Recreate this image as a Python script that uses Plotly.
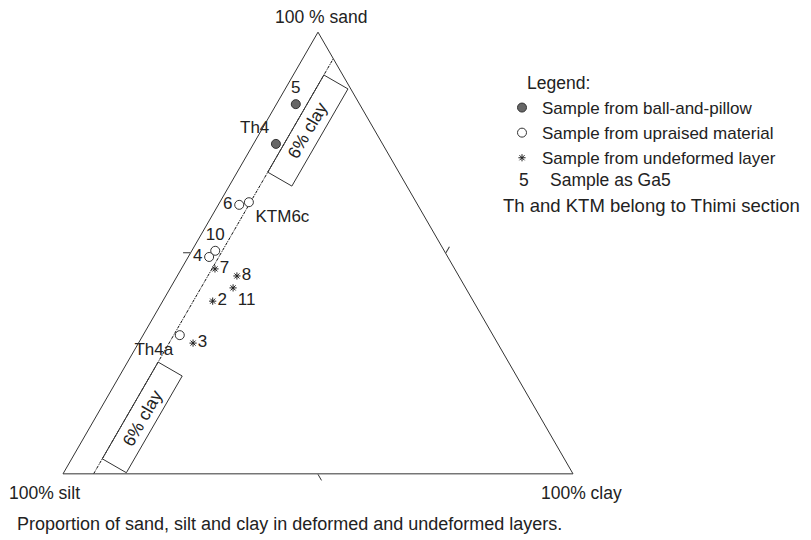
import plotly.graph_objects as go

# ---- data: composition in % (sand, silt, clay) ----
ball_names = ["5", "Th4"]
ball_sand = [83.7, 74.7]
ball_silt = [12.5, 20.9]
ball_clay = [3.8, 4.4]

up_names = ["6", "KTM6c", "10", "4", "Th4a"]
up_sand = [60.9, 61.5, 50.5, 49.1, 31.4]
up_silt = [35.0, 32.8, 44.9, 46.8, 61.4]
up_clay = [4.1, 5.7, 4.6, 4.1, 7.2]

und_names = ["7", "8", "11", "2", "3"]
und_sand = [46.4, 44.8, 42.1, 39.1, 29.6]
und_silt = [47.0, 43.5, 45.6, 51.1, 59.7]
und_clay = [6.6, 11.7, 12.3, 9.8, 10.7]

clay_line = 6.0                      # 6 % clay reference line
box_sand_ranges = [(68.3, 90.3), (3.4, 25.3)]
box_clay_width = 6.3

corner_titles = ["100 % sand", "100% silt", "100% clay"]

label_pos = {"5": "top center", "Th4": "top left", "6": "middle left",
             "KTM6c": "bottom right", "10": "top center", "4": "middle left",
             "Th4a": "bottom left", "7": "middle right", "8": "middle right",
             "11": "bottom right", "2": "middle right", "3": "middle right"}

FONT = "Liberation Sans, Arial, sans-serif"
TXT = "#222222"
W, H = 811, 540
ML, MR, MT, MB = 63, 238, 32, 66
PW, PH = W - ML - MR, H - MT - MB


def paper(px, py):
    """screen pixel -> paper fraction"""
    return (px - ML) / PW, (H - MB - py) / PH


fig = go.Figure()

# 6 % clay line
fig.add_trace(go.Scatterternary(
    a=[0, 100 - clay_line], b=[100 - clay_line, 0], c=[clay_line, clay_line],
    mode="lines", line=dict(color="#111111", width=1, dash="3px,1px,1px,1px"),
    hoverinfo="skip", showlegend=False))

# boxes around the "6% clay" labels
for s_lo, s_hi in box_sand_ranges:
    w = box_clay_width
    aa = [s_hi, s_hi - w / 2, s_lo - w / 2, s_lo, s_hi]
    cc = [clay_line, clay_line + w, clay_line + w, clay_line, clay_line]
    bb = [100 - x - y for x, y in zip(aa, cc)]
    fig.add_trace(go.Scatterternary(
        a=aa, b=bb, c=cc, mode="lines", line=dict(color="#333333", width=1),
        hoverinfo="skip", showlegend=False))
    ac = (s_lo + s_hi) / 2 - w / 4
    c_c = clay_line + w / 2
    fig.add_annotation(x=(c_c + ac / 2) / 100, y=ac / 100, xref="paper", yref="paper",
                       text="6% clay", textangle=-60, showarrow=False,
                       xanchor="center", yanchor="middle",
                       font=dict(family=FONT, size=17.5, color=TXT))

groups = [
    ("Sample from ball-and-pillow", ball_names, ball_sand, ball_silt, ball_clay,
     dict(symbol="circle", size=9, color="#676767", line=dict(color="#333333", width=1))),
    ("Sample from upraised material", up_names, up_sand, up_silt, up_clay,
     dict(symbol="circle", size=9, color="white", line=dict(color="#333333", width=1))),
    ("Sample from undeformed layer", und_names, und_sand, und_silt, und_clay,
     dict(symbol="asterisk-open", size=6, color="#222222", line=dict(color="#222222", width=1))),
]

for name, names, sa, si, cl, mk in groups:
    fig.add_trace(go.Scatterternary(
        a=sa, b=si, c=cl, mode="markers", marker=mk, name=name,
        text=names, hoverinfo="text+a+b+c", showlegend=True))
    # labels (invisible markers of the same size keep the text clear of the symbols)
    fig.add_trace(go.Scatterternary(
        a=sa, b=si, c=cl, mode="markers+text", text=names, cliponaxis=False,
        marker=dict(symbol="circle", size=mk["size"], color="rgba(0,0,0,0)",
                    line=dict(width=0)),
        textposition=[label_pos[n] for n in names],
        textfont=dict(family=FONT, size=17, color=TXT),
        hoverinfo="skip", showlegend=False))

axis_common = dict(title=dict(text=""), showticklabels=False, ticks="outside", ticklen=7,
                   tickmode="array", tickvals=[50], showgrid=False,
                   linecolor="#333333", linewidth=1, tickcolor="#333333", min=0)

lx, ly = paper(502, 90)
fig.update_layout(
    width=W, height=H, template="none",
    paper_bgcolor="white", plot_bgcolor="white",
    margin=dict(l=ML, r=MR, t=MT, b=MB),
    font=dict(family=FONT, size=17, color=TXT),
    ternary=dict(
        sum=100, bgcolor="white",
        domain=dict(x=[0, 1], y=[0, 1]),
        aaxis=axis_common, baxis=axis_common, caxis=axis_common,
    ),
    showlegend=True,
    legend=dict(x=lx, y=ly, xanchor="left", yanchor="top",
                bgcolor="rgba(0,0,0,0)", font=dict(family=FONT, size=17, color=TXT)),
)

# corner titles
for txt, (px, py) in zip(corner_titles, [(320.5, 17), (44, 493), (581, 493)]):
    x, y = paper(px, py)
    fig.add_annotation(x=x, y=y, xref="paper", yref="paper", text=txt, showarrow=False,
                       xanchor="center", yanchor="middle",
                       font=dict(family=FONT, size=17.5, color=TXT))

extra = [("Legend:", 525, 83, 17.5), ("5", 517, 180, 17.5), ("Sample as Ga5", 548, 180, 17.5),
         ("Th and KTM belong to Thimi section", 501, 205, 18.5),
         ("Proportion of sand, silt and clay in deformed and undeformed layers.", 15, 524, 18)]
for txt, px, py, fs in extra:
    x, y = paper(px, py)
    fig.add_annotation(x=x, y=y, xref="paper", yref="paper", text=txt, showarrow=False,
                       xanchor="left", yanchor="middle",
                       font=dict(family=FONT, size=fs, color=TXT))

fig.write_html("out.html", config={"displayModeBar": False},
               post_script="document.body.style.margin='0px';")
